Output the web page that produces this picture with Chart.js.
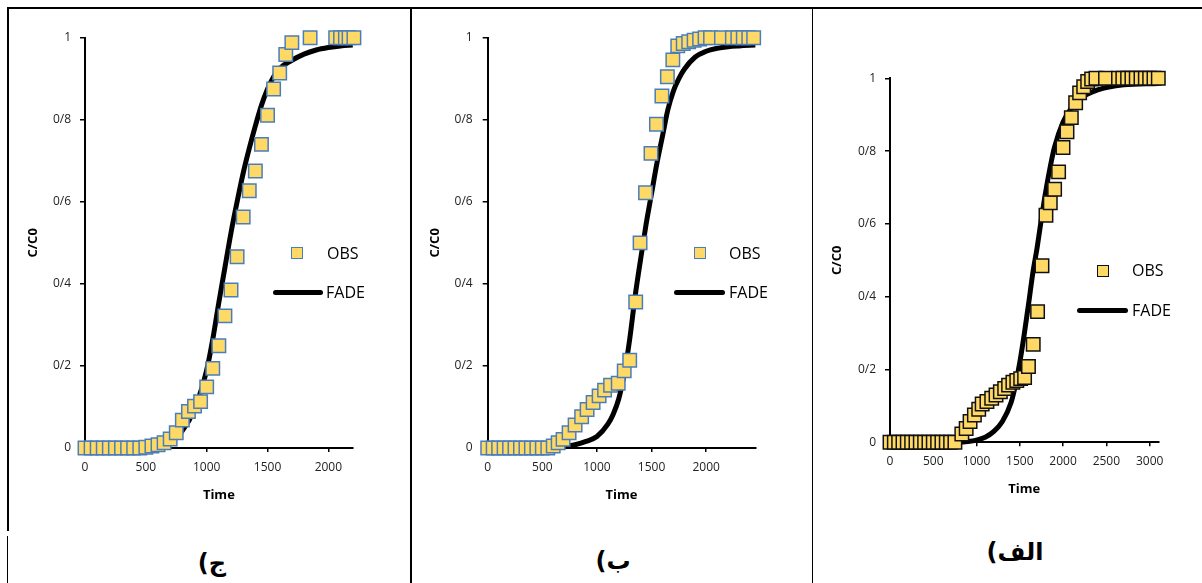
<!DOCTYPE html>
<html>
<head>
<meta charset="utf-8">
<script src="https://cdn.jsdelivr.net/npm/chart.js@4.4.1/dist/chart.umd.min.js"></script>
<style>
  html, body { margin: 0; padding: 0; background: #fff; }
  body { width: 1202px; height: 583px; position: relative; overflow: hidden; font-family: "Open Sans", sans-serif; }
  .rule { position: absolute; background: #000; }
  canvas { position: absolute; }
  .lg { position: absolute; font-size: 16px; line-height: 20px; color: #000; white-space: nowrap; }
  .sq { position: absolute; box-sizing: border-box; width: 12px; height: 12px; background: #ffd966; border: 1.5px solid #4a7ebb; }
  .sq.dark { border-color: #111; }
  .bar { position: absolute; height: 5px; border-radius: 3px; background: #000; }
  .cap { position: absolute; width: 120px; text-align: center; direction: rtl; font-family: "DejaVu Sans", sans-serif; font-weight: bold; font-size: 24px; line-height: 30px; color: #000; }
</style>
</head>
<body>
<!-- table rules -->
<div class="rule" style="left:7px;top:7px;width:1195px;height:2px"></div>
<div class="rule" style="left:7px;top:7px;width:1.5px;height:524px"></div>
<div class="rule" style="left:6.5px;top:536px;width:1.5px;height:47px"></div>
<div class="rule" style="left:409.5px;top:7px;width:2px;height:576px"></div>
<div class="rule" style="left:811.5px;top:7px;width:1.5px;height:576px"></div>

<canvas id="c1" width="398" height="520" style="left:10px;top:10px"></canvas>
<canvas id="c2" width="398" height="520" style="left:412px;top:10px"></canvas>
<canvas id="c3" width="386" height="520" style="left:814px;top:10px"></canvas>

<!-- legends -->
<div class="sq" style="left:291px;top:247px"></div>
<div class="lg" style="left:327px;top:243px">OBS</div>
<div class="bar" style="left:273px;top:290px;width:50px"></div>
<div class="lg" style="left:326px;top:282px">FADE</div>

<div class="sq" style="left:694px;top:247px"></div>
<div class="lg" style="left:729px;top:243px">OBS</div>
<div class="bar" style="left:674px;top:290px;width:51px"></div>
<div class="lg" style="left:729px;top:282px">FADE</div>

<div class="sq dark" style="left:1097px;top:265px"></div>
<div class="lg" style="left:1132px;top:260px">OBS</div>
<div class="bar" style="left:1077px;top:307.5px;width:51px"></div>
<div class="lg" style="left:1132px;top:300px">FADE</div>

<!-- captions -->
<div class="cap" style="left:152px;top:548px">ج)</div>
<div class="cap" style="left:553px;top:546px">ب)</div>
<div class="cap" style="left:955px;top:537px">الف)</div>

<script>
// shared y ticks (labels use the Persian decimal separator)
const yTickValues = [0, 0.2, 0.4, 0.6, 0.8, 1];
const yTickLabels = ['0', '0/2', '0/4', '0/6', '0/8', '1'];

// panel ج
const obsTimeC = [0, 50, 100, 150, 200, 250, 300, 350, 400, 450, 500, 550, 600, 650, 700, 750, 800, 850, 900, 950,
  1000, 1050, 1100, 1150, 1200, 1250, 1300, 1350, 1400, 1450, 1500, 1550, 1600, 1650, 1700, 1850, 2060, 2100, 2140, 2170, 2210];
const obsConcC = [0, 0, 0, 0, 0, 0, 0, 0, 0, 0, 0.002, 0.005, 0.008, 0.013, 0.022, 0.037, 0.068, 0.089, 0.102, 0.113,
  0.149, 0.194, 0.249, 0.322, 0.385, 0.466, 0.563, 0.627, 0.675, 0.740, 0.811, 0.875, 0.914, 0.959, 0.988, 1, 1, 1, 1, 1, 1];
const fadeTimeC = [0, 400, 500, 600, 700, 800, 900, 1000, 1050, 1100, 1150, 1200, 1250, 1300, 1350, 1400, 1450, 1500, 1550, 1600, 1700, 1800, 1900, 2000, 2100, 2200];
const fadeConcC = [0, 0, 0.002, 0.006, 0.016, 0.042, 0.095, 0.19, 0.265, 0.355, 0.44, 0.525, 0.6, 0.67, 0.73, 0.785, 0.835, 0.875, 0.905, 0.925, 0.945, 0.96, 0.97, 0.976, 0.98, 0.982];
const xTicksC = [0, 500, 1000, 1500, 2000];

// panel ب
const obsTimeB = [0, 50, 100, 150, 200, 250, 300, 350, 400, 450, 500, 550, 600, 645, 690, 745, 800, 860, 910, 965, 1020, 1070, 1125, 1195,
  1250, 1300, 1355, 1395, 1445, 1495, 1545, 1595, 1645, 1695, 1740, 1790, 1840, 1890, 1940, 1990, 2040, 2140, 2240, 2290, 2340, 2390, 2435];
const obsConcB = [0, 0, 0, 0, 0, 0, 0, 0, 0, 0, 0, 0, 0.005, 0.013, 0.021, 0.037, 0.056, 0.076, 0.094, 0.111, 0.127, 0.141, 0.153, 0.158,
  0.188, 0.214, 0.356, 0.5, 0.622, 0.718, 0.789, 0.858, 0.905, 0.946, 0.98, 0.986, 0.99, 0.994, 0.997, 1, 1, 1, 1, 1, 1, 1, 1];
const fadeTimeB = [0, 600, 700, 800, 900, 1000, 1100, 1150, 1200, 1250, 1300, 1350, 1400, 1450, 1500, 1550, 1600, 1650, 1700, 1750, 1800, 1900, 2000, 2100, 2200, 2300, 2450];
const fadeConcB = [0, 0, 0.003, 0.008, 0.016, 0.028, 0.058, 0.083, 0.12, 0.18, 0.265, 0.37, 0.46, 0.545, 0.62, 0.695, 0.76, 0.825, 0.87, 0.9, 0.923, 0.953, 0.967, 0.974, 0.978, 0.98, 0.982];
const xTicksB = [0, 500, 1000, 1500, 2000];

// panel الف
const obsTimeA = [0, 50, 100, 150, 200, 250, 300, 350, 400, 450, 500, 550, 600, 650, 700, 750, 830, 880, 925, 975, 1025, 1065, 1120, 1175,
  1225, 1275, 1325, 1370, 1420, 1465, 1510, 1555, 1600, 1655, 1705, 1756, 1802, 1852, 1902, 1948, 1999, 2045, 2095, 2145, 2191, 2238,
  2284, 2330, 2380, 2490, 2640, 2690, 2745, 2795, 2845, 2900, 2950, 3000, 3050, 3100];
const obsConcA = [0, 0, 0, 0, 0, 0, 0, 0, 0, 0, 0, 0, 0, 0, 0, 0, 0.023, 0.038, 0.057, 0.075, 0.091, 0.105, 0.112, 0.121,
  0.13, 0.139, 0.148, 0.157, 0.165, 0.17, 0.175, 0.178, 0.208, 0.269, 0.359, 0.485, 0.624, 0.658, 0.695, 0.743, 0.81, 0.853, 0.892, 0.933, 0.96, 0.977,
  0.991, 0.998, 1, 1, 1, 1, 1, 1, 1, 1, 1, 1, 1, 1];
const fadeTimeA = [0, 800, 900, 1000, 1100, 1200, 1300, 1400, 1450, 1500, 1550, 1600, 1650, 1700, 1750, 1800, 1850, 1900, 2000, 2100, 2200, 2400, 2700, 3100];
const fadeConcA = [0, 0, 0.002, 0.006, 0.014, 0.03, 0.058, 0.11, 0.158, 0.22, 0.295, 0.378, 0.465, 0.535, 0.615, 0.69, 0.755, 0.81, 0.88, 0.92, 0.945, 0.968, 0.982, 0.986];
const xTicksA = [0, 500, 1000, 1500, 2000, 2500, 3000];

const pairs = (xs, ys) => xs.map((x, i) => ({ x: x, y: ys[i] }));
const tickFont = { family: 'Open Sans', size: 12 };
const titleFont = { family: 'Open Sans', size: 13, weight: 'bold' };

function drawPanel(id, obsT, obsC, fadeT, fadeC, xMax, xTicks, edgeColor, box) {
    new Chart(document.getElementById(id), {
        type: 'scatter',
        data: {
            datasets: [
                {
                    label: 'OBS',
                    data: pairs(obsT, obsC),
                    pointStyle: 'rect',
                    pointRadius: 9.5,
                    pointBackgroundColor: '#ffd966',
                    pointBorderColor: edgeColor,
                    pointBorderWidth: 1.5,
                    clip: false,
                },
                {
                    label: 'FADE',
                    data: pairs(fadeT, fadeC),
                    showLine: true,
                    borderColor: '#000',
                    borderWidth: 5,
                    pointRadius: 0,
                    cubicInterpolationMode: 'monotone',
                    clip: false,
                },
            ],
        },
        options: {
            responsive: false,
            animation: false,
            devicePixelRatio: 1,
            layout: { padding: { top: box.padTop, right: box.padRight, left: 0, bottom: 0 } },
            plugins: { legend: { display: false }, tooltip: { enabled: false } },
            scales: {
                x: {
                    type: 'linear', min: 0, max: xMax, bounds: 'data',
                    afterBuildTicks: s => { s.ticks = xTicks.map(v => ({ value: v })); },
                    afterFit: s => { s.height = box.xHeight; },
                    border: { display: true, color: '#000', width: 2 },
                    grid: { display: true, drawOnChartArea: false, drawTicks: true, tickLength: 4, color: '#000', lineWidth: 1.5 },
                    ticks: {
                        autoSkip: false, maxRotation: 0,
                        padding: box.xTickPad, color: '#222', font: tickFont,
                        callback: v => String(v),
                    },
                    title: { display: true, text: 'Time', color: '#000', font: titleFont, padding: { top: 0, bottom: box.xTitlePad } },
                },
                y: {
                    type: 'linear', min: 0, max: 1, bounds: 'data',
                    afterBuildTicks: s => { s.ticks = yTickValues.map(v => ({ value: v })); },
                    afterFit: s => { s.width = box.yWidth; },
                    border: { display: true, color: '#000', width: 2 },
                    grid: { display: true, drawOnChartArea: false, drawTicks: true, tickLength: 5, color: '#000', lineWidth: 1.5 },
                    ticks: {
                        autoSkip: false,
                        padding: box.yTickPad, color: '#222', font: tickFont,
                        callback: (v, i) => yTickLabels[i],
                    },
                    title: { display: true, text: 'C/C0', color: '#000', font: titleFont, padding: { top: box.yTitlePad, bottom: 0 } },
                },
            },
        },
    });
}

drawPanel('c1', obsTimeC, obsConcC, fadeTimeC, fadeConcC, 2200, xTicksC, '#4a7ebb',
    { yWidth: 75, xHeight: 82, padTop: 27.7, padRight: 55.3, yTitlePad: 15.5, xTitlePad: 27.2, xTickPad: 8.5, yTickPad: 9 });
drawPanel('c2', obsTimeB, obsConcB, fadeTimeB, fadeConcB, 2450, xTicksB, '#4a7ebb',
    { yWidth: 75.7, xHeight: 82, padTop: 27.7, padRight: 54.7, yTitlePad: 15.2, xTitlePad: 27.2, xTickPad: 8.5, yTickPad: 10 });
drawPanel('c3', obsTimeA, obsConcA, fadeTimeA, fadeConcA, 3100, xTicksA, '#111',
    { yWidth: 76, xHeight: 87.7, padTop: 68.3, padRight: 41.7, yTitlePad: 15.5, xTitlePad: 33.2, xTickPad: 8.2, yTickPad: 9 });
</script>
</body>
</html>
